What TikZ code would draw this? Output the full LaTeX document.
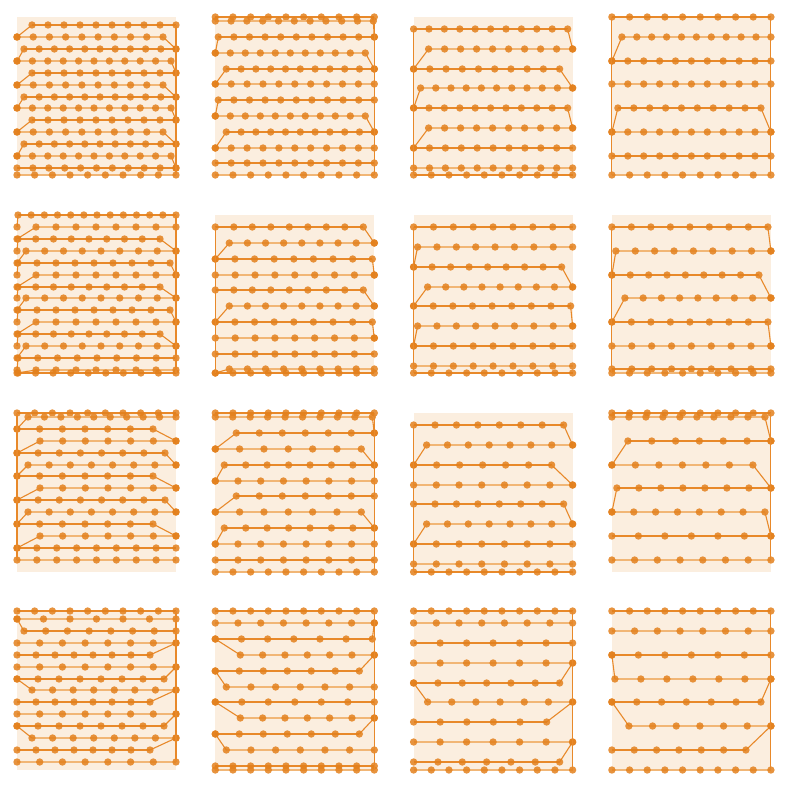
\documentclass[tikz,border=0pt]{standalone}
\usepackage{tikz}
\definecolor{panelbg}{HTML}{FBEEDF}
\definecolor{dotorange}{HTML}{E3801C}
\definecolor{lineorange}{HTML}{E8892A}
\definecolor{paleorange}{HTML}{F1B676}

% one panel: col, row, links go down (1) or up (0), left edge line, right edge line, rows y/l/r/n
\newcommand{\dotpanel}[6]{%
  \begin{scope}[shift={(17+198.3*#1,17+198*#2)}]
    \fill[panelbg] (0,0) rectangle (159,159);
    \foreach \yy/\ll/\rr/\nn [count=\i, remember=\yy as \yp (initially 0),
        remember=\ll as \lp (initially 0), remember=\rr as \rp (initially 159)] in {#6} {
      \ifodd\i \def\rowstyle{rowthin}\else\def\rowstyle{rowpale}\fi
      \draw[\rowstyle] (\ll,\yy) -- (\rr,\yy);
      \ifnum\i>1
        \ifnum#3=1
          \ifdim\lp pt>0.5pt \draw[link] (\lp,\yp) -- (0,\yy); \fill[dot] (0,\yy) circle[radius=1.85pt];\fi
          \ifdim\rp pt<158.5pt \draw[link] (\rp,\yp) -- (159,\yy); \fill[dot] (159,\yy) circle[radius=1.85pt];\fi
        \else
          \ifdim\ll pt>0.5pt \draw[link] (\ll,\yy) -- (0,\yp); \fill[dot] (0,\yp) circle[radius=1.85pt];\fi
          \ifdim\rr pt<158.5pt \draw[link] (\rr,\yy) -- (159,\yp); \fill[dot] (159,\yp) circle[radius=1.85pt];\fi
        \fi
      \fi
      \foreach \k in {1,...,\nn}
        \fill[dot] ({\ll+(\rr-\ll)*(\k-1)/(\nn-1)},\yy) circle[radius=1.85pt];
      \ifnum\i=1 \xdef\firsty{\yy}\fi
      \xdef\lasty{\yy}
    }
    \ifnum#4=1 \draw[link] (0,\firsty) -- (0,\lasty);\fi
    \ifnum#5=1 \draw[link] (159,\firsty) -- (159,\lasty);\fi
  \end{scope}}

\begin{document}
\begin{tikzpicture}[
  x=0.5pt, y=-0.5pt,
  dot/.style={fill=dotorange, fill opacity=0.85},
  rowthin/.style={draw=lineorange, line width=0.55pt},
  rowpale/.style={draw=paleorange, line width=1.2pt},
  link/.style={draw=lineorange, line width=0.55pt}
]
\useasboundingbox (0,0) rectangle (786,785);

% top row
\dotpanel{0}{0}{1}{0}{1}{8/15/159/10, 20/0/146/10, 32/7/159/11, 44/0/154/11, 56/15/159/10, 68/0/146/10, 80/7/159/11, 91/0/154/11, 103/15/159/10, 115/0/146/10, 127/7/159/11, 139/0/154/11, 151/0/159/11, 158/0/159/10}
\dotpanel{1}{0}{1}{0}{1}{0/0/159/10, 4/0/158/11, 20/3/159/11, 36/0/150/11, 52/11/159/11, 67/0/159/11, 83/3/159/11, 99/0/150/11, 115/11/159/11, 131/0/159/11, 146/0/159/11, 158/0/159/10}
\dotpanel{2}{0}{1}{1}{0}{12/0/154/11, 32/15/159/10, 52/0/146/10, 71/7/159/11, 91/0/154/11, 111/15/159/10, 131/0/159/11, 151/0/159/11, 158/0/159/10}
\dotpanel{3}{0}{1}{1}{1}{0/0/159/10, 20/10/159/11, 44/0/159/11, 67/0/159/11, 91/6/149/10, 115/0/159/11, 139/0/159/11, 158/0/159/10}

% second row
\dotpanel{0}{1}{1}{0}{1}{0/1/159/13, 12/19/159/8, 24/1/143/9, 36/9/159/9, 48/1/153/9, 60/19/159/8, 72/1/143/9, 83/9/159/9, 95/1/153/9, 107/19/159/8, 119/1/143/9, 131/9/159/9, 143/1/159/9, 155/19/159/8, 158/1/159/10}
\dotpanel{1}{1}{1}{1}{0}{12/0/148/9, 28/14/159/9, 44/0/157/9, 60/0/159/9, 75/0/148/9, 91/14/159/9, 107/0/157/9, 123/0/159/9, 139/0/159/9, 154/14/159/9, 158/0/159/10}
\dotpanel{2}{1}{1}{1}{0}{12/0/159/9, 32/4/159/9, 52/0/148/9, 72/14/159/9, 91/0/157/9, 111/4/159/9, 131/0/159/9, 151/0/159/9, 158/0/159/10}
\dotpanel{3}{1}{1}{1}{0}{12/0/156/9, 36/4/159/9, 60/0/147/9, 83/13/159/9, 107/0/156/9, 131/0/159/9, 154/0/159/9, 158/0/159/10}

% third row
\dotpanel{0}{2}{1}{1}{0}{0/0/159/10, 4/11/159/10, 16/0/136/7, 28/23/159/7, 40/0/148/8, 52/11/159/8, 63/0/136/7, 75/23/159/7, 87/0/148/8, 99/11/159/8, 111/0/136/7, 123/23/159/7, 135/0/159/9, 147/0/159/9}
\dotpanel{1}{2}{1}{0}{1}{0/0/159/10, 4/0/157/10, 20/21/159/7, 36/0/146/7, 52/9/159/8, 68/0/159/8, 83/21/159/7, 99/0/146/7, 115/9/159/8, 131/0/159/8, 147/0/159/8, 159/0/159/10}
\dotpanel{2}{2}{1}{1}{0}{12/0/150/8, 32/13/159/8, 52/0/138/7, 72/0/159/8, 91/0/150/8, 111/13/159/8, 131/0/159/8, 151/0/159/8, 159/0/159/10}
\dotpanel{3}{2}{1}{0}{1}{0/0/159/10, 4/0/153/10, 28/16/159/7, 52/0/141/7, 75/5/159/8, 99/0/153/8, 123/0/159/7, 147/0/159/8}

% bottom row
\dotpanel{0}{3}{0}{0}{1}{0/0/159/10, 8/0/159/7, 20/7/159/8, 32/0/159/8, 44/0/133/8, 56/0/159/8, 68/0/147/8, 79/15/159/8, 91/0/133/8, 103/0/159/8, 115/0/147/8, 127/15/159/8, 139/0/133/8, 151/0/159/8}
\dotpanel{1}{3}{0}{0}{1}{0/0/159/10, 12/0/159/8, 28/0/157/7, 44/25/159/7, 60/0/144/7, 76/11/159/7, 91/0/159/7, 107/25/159/7, 123/0/144/7, 139/11/159/7, 155/0/159/10, 159/0/159/10}
\dotpanel{2}{3}{0}{0}{1}{0/0/159/10, 12/0/159/8, 32/0/159/7, 52/0/159/7, 72/0/146/7, 91/14/159/7, 111/0/133/6, 131/0/159/7, 151/0/146/7, 159/0/159/10}
\dotpanel{3}{3}{0}{0}{1}{0/0/159/10, 20/0/159/8, 44/0/159/7, 68/3/159/7, 91/0/149/7, 115/17/159/7, 139/0/134/7, 159/0/159/10}

\end{tikzpicture}
\end{document}
